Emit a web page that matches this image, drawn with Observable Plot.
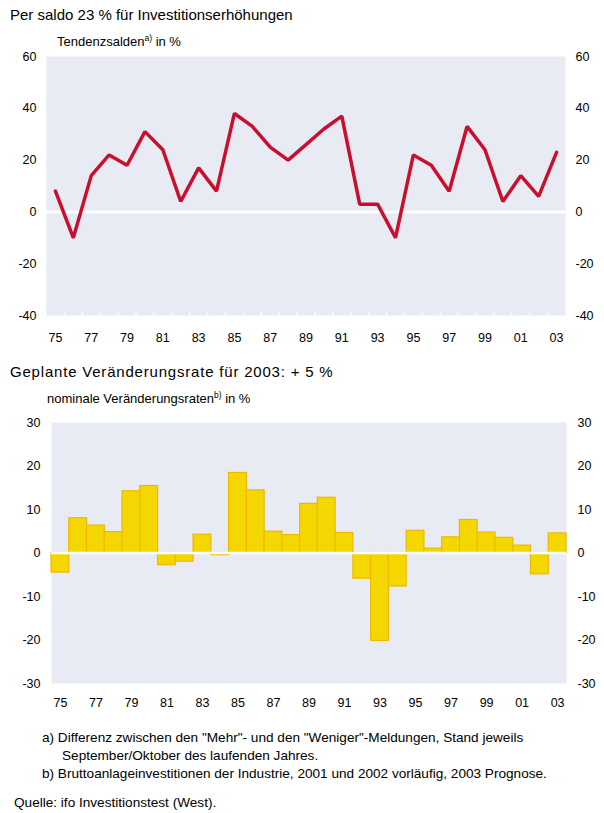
<!DOCTYPE html>
<html>
<head>
<meta charset="utf-8">
<script src="https://cdn.jsdelivr.net/npm/d3@7"></script>
<script src="https://cdn.jsdelivr.net/npm/@observablehq/plot@0.6"></script>
<style>
  html, body { margin: 0; padding: 0; background: #fff; }
  body { width: 604px; height: 813px; position: relative; font-family: "Liberation Sans", Arial, sans-serif; color: #000; overflow: hidden; }
  .t { position: absolute; white-space: nowrap; line-height: 1; }
  .title { font-size: 15px; left: 10px; }
  .sub { font-size: 13px; }
  .sub sup { font-size: 8.5px; vertical-align: 5px; line-height: 0; }
  .note { font-size: 13.6px; }
  .chart { position: absolute; left: 0; }
</style>
</head>
<body>
<div class="t title" style="top:7px">Per saldo 23 % für Investitionserhöhungen</div>
<div class="t sub" style="left:57px; top:35px">Tendenzsalden<sup>a)</sup> in %</div>
<div id="top" class="chart" style="top:48px"></div>
<div class="t title" style="top:364px; letter-spacing:0.8px">Geplante Veränderungsrate für 2003: + 5 %</div>
<div class="t sub" style="left:47px; top:392px">nominale Veränderungsraten<sup>b)</sup> in %</div>
<div id="bottom" class="chart" style="top:414px"></div>
<div class="t note" style="left:42px; top:731px">a) Differenz zwischen den "Mehr"- und den "Weniger"-Meldungen, Stand jeweils</div>
<div class="t note" style="left:62px; top:749px">September/Oktober des laufenden Jahres.</div>
<div class="t note" style="left:42px; top:767px">b) Bruttoanlageinvestitionen der Industrie, 2001 und 2002 vorläufig, 2003 Prognose.</div>
<div class="t note" style="left:14px; top:796px">Quelle: ifo Investitionstest (West).</div>
<script>
const years = [1975,1976,1977,1978,1979,1980,1981,1982,1983,1984,1985,1986,1987,1988,1989,1990,1991,1992,1993,1994,1995,1996,1997,1998,1999,2000,2001,2002,2003];
const tendenzsalden = [8,-10,14,22,18,31,24,4,17,8,38,33,25,20,26,32,37,3,3,-10,22,18,8,33,24,4,14,6,23];
const veraenderungsraten = [-4.5,8,6.3,4.8,14.2,15.4,-2.8,-2,4.2,-0.5,18.4,14.4,4.9,4.1,11.3,12.7,4.6,-5.9,-20.2,-7.7,5.1,1,3.6,7.6,4.7,3.5,1.7,-4.9,4.5];
const xTickYears = [1975,1977,1979,1981,1983,1985,1987,1989,1991,1993,1995,1997,1999,2001,2003];
const topYTicks = [-40,-20,0,20,40,60];
const bottomYTicks = [-30,-20,-10,0,10,20,30];

const font = '"Liberation Sans", Arial, sans-serif';
const panelFill = "#e8eaf4";
const lineColor = "#c8102e";
const barFill = "#f5d700";
const barStroke = "#efb800";
const yy = d => String(d % 100).padStart(2, "0");
const num = d => String(d);

const topData = years.map((year, i) => ({year, v: tendenzsalden[i]}));
const botData = years.map((year, i) => ({year, v: veraenderungsraten[i]}));
const bounds = years.slice(1).map(y => y - 0.5);

const topChart = Plot.plot({
  width: 604, height: 300,
  marginTop: 8, marginBottom: 33, marginLeft: 46, marginRight: 39,
  style: {fontFamily: font, fontSize: "12.5px", color: "#000", background: "transparent"},
  x: {domain: [1974.5, 2003.5]},
  y: {domain: [-40, 60]},
  marks: [
    Plot.frame({fill: panelFill, stroke: null}),
    Plot.ruleX(bounds, {x: d => d, y1: -40, y2: -39, stroke: "white", strokeWidth: 1.5}),
    Plot.ruleY([0], {stroke: "white", strokeWidth: 3}),
    Plot.lineY(topData, {x: "year", y: "v", stroke: lineColor, strokeWidth: 3.5, strokeLinejoin: "miter"}),
    Plot.axisY({anchor: "left", ticks: topYTicks, tickFormat: num, tickSize: 0, tickPadding: 10, label: null}),
    Plot.axisY({anchor: "right", ticks: topYTicks, tickFormat: num, tickSize: 0, tickPadding: 10, label: null}),
    Plot.axisX({ticks: xTickYears, tickFormat: yy, tickSize: 0, tickPadding: 18, label: null})
  ]
});
document.getElementById("top").append(topChart);

const bottomChart = Plot.plot({
  width: 604, height: 300,
  marginTop: 8, marginBottom: 31, marginLeft: 51, marginRight: 38,
  style: {fontFamily: font, fontSize: "12.5px", color: "#000", background: "transparent"},
  x: {domain: [1974.5, 2003.5]},
  y: {domain: [-30, 30]},
  marks: [
    Plot.frame({fill: panelFill, stroke: null}),
    Plot.rectY(botData, {x1: d => d.year - 0.5, x2: d => d.year + 0.5, y: "v", fill: barFill, stroke: barStroke, strokeWidth: 1.2}),
    Plot.ruleY([0], {stroke: "white", strokeWidth: 2.5}),
    Plot.axisY({anchor: "left", ticks: bottomYTicks, tickFormat: num, tickSize: 0, tickPadding: 11, label: null}),
    Plot.axisY({anchor: "right", ticks: bottomYTicks, tickFormat: num, tickSize: 0, tickPadding: 11, label: null}),
    Plot.axisX({ticks: xTickYears, tickFormat: yy, tickSize: 0, tickPadding: 15, label: null})
  ]
});
document.getElementById("bottom").append(bottomChart);
</script>
</body>
</html>
